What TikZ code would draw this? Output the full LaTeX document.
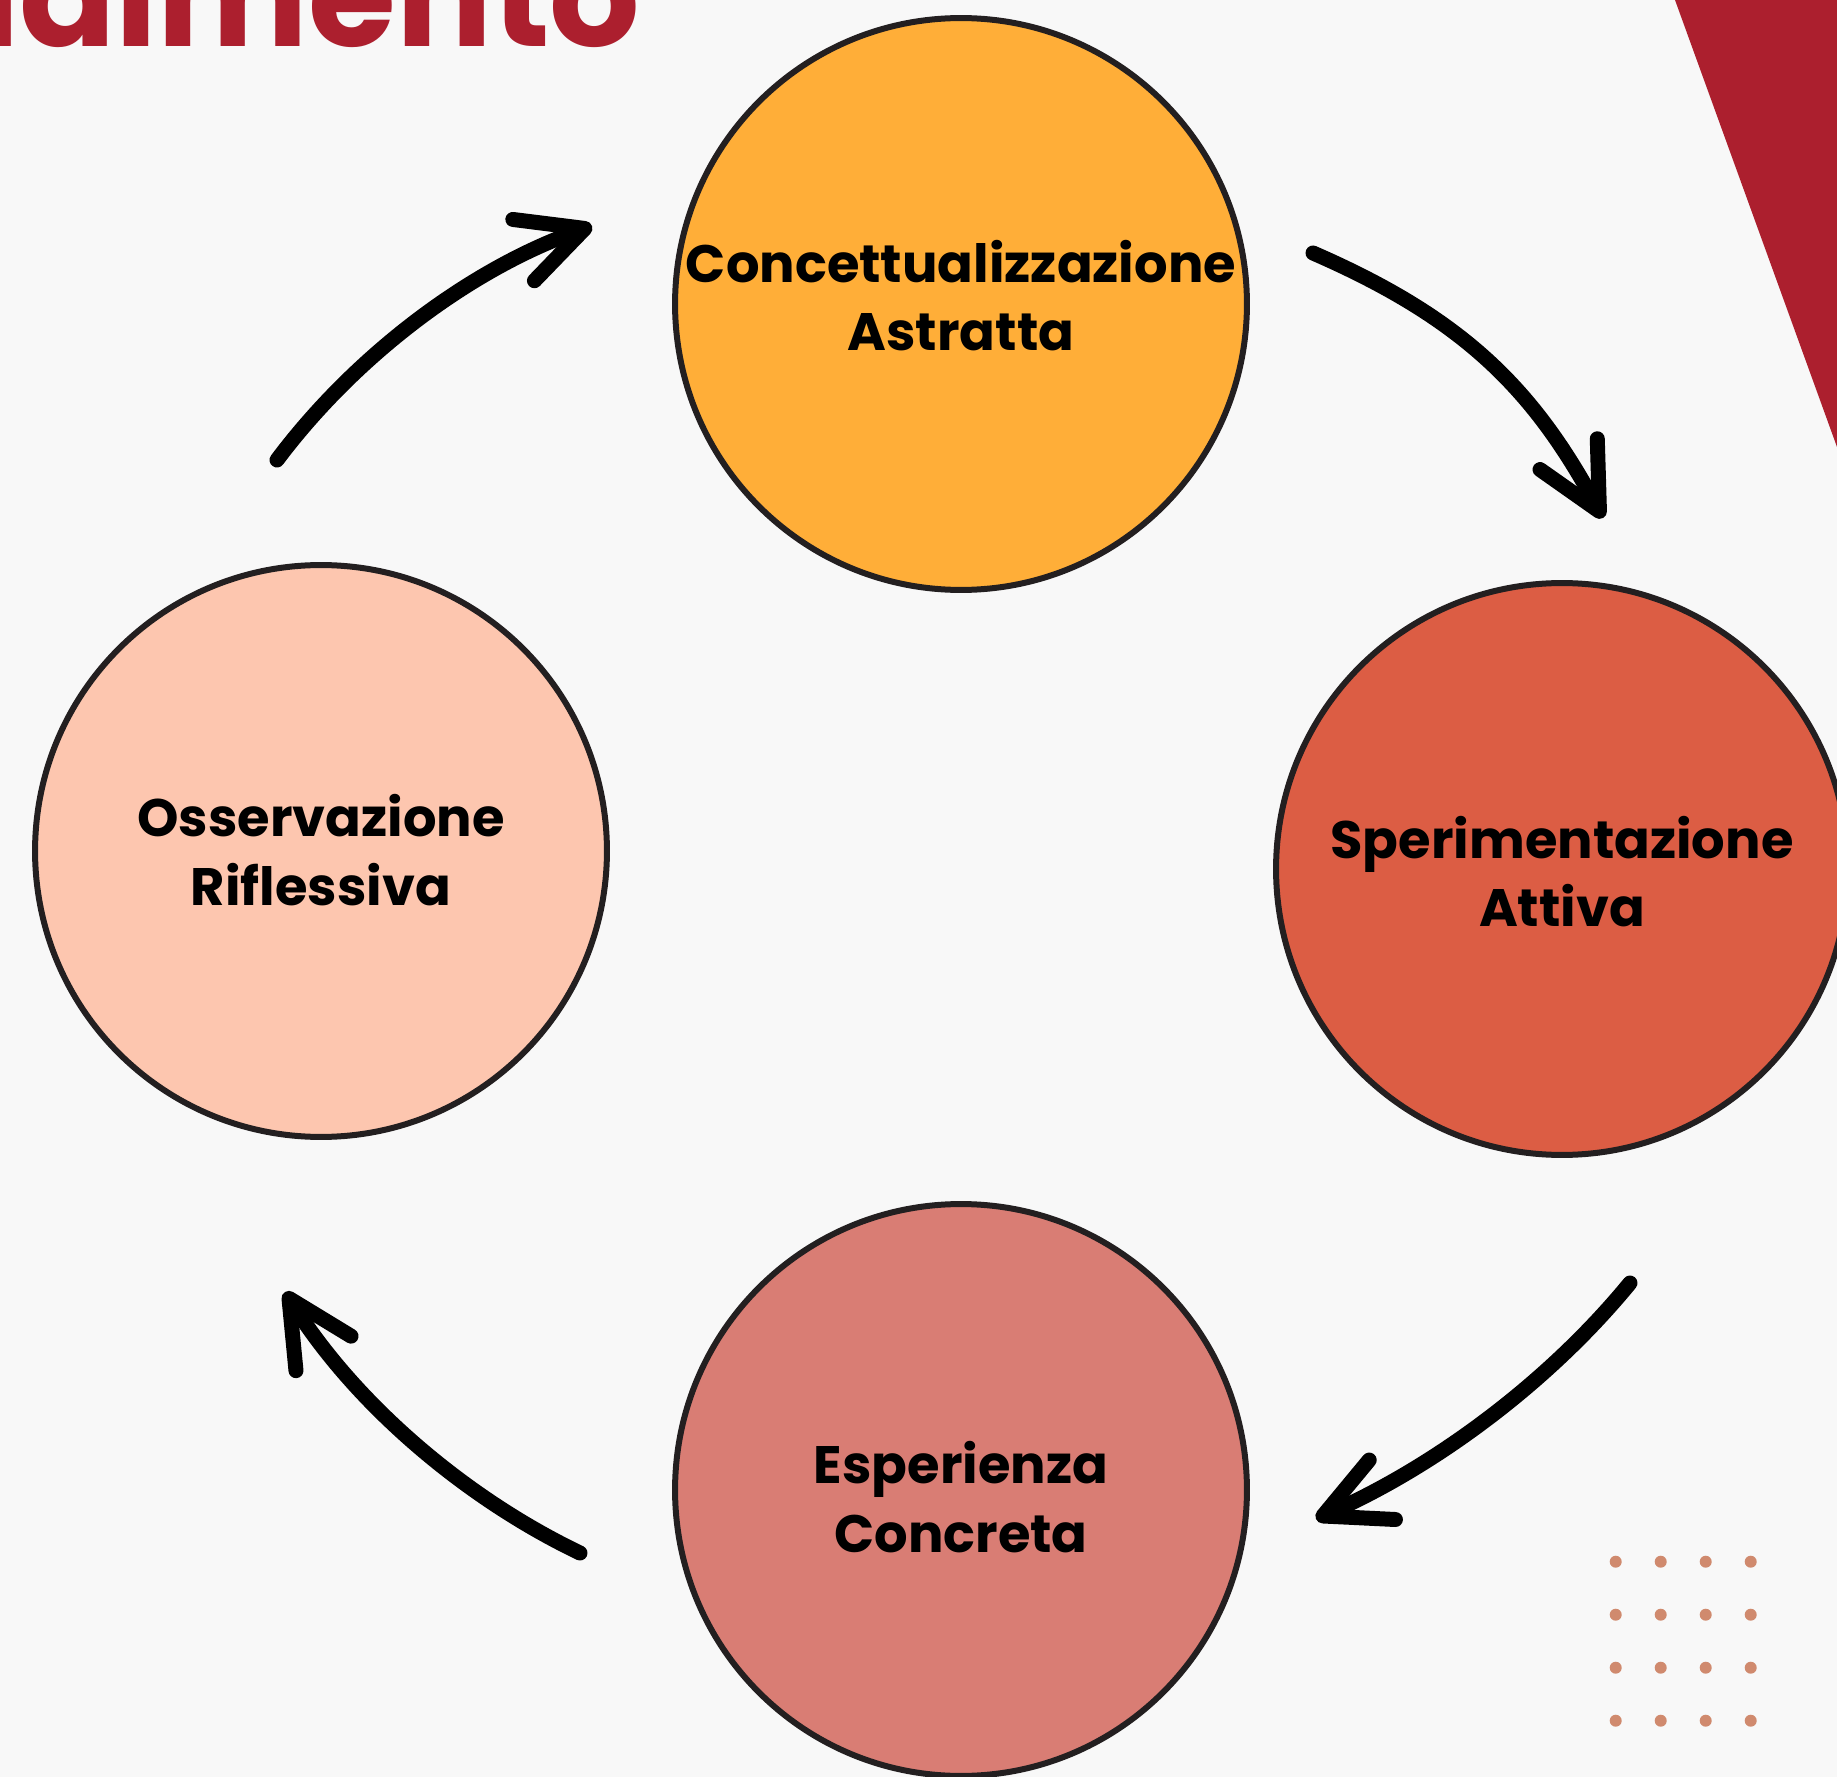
\documentclass[tikz,border=0pt]{standalone}
\usepackage{xcolor}
\usepackage{fontspec}
\setmainfont{Poppins}
\usepackage{tikz}
\usetikzlibrary{arrows.meta}

\definecolor{sfondo}{HTML}{F8F8F8}
\definecolor{rossotitolo}{HTML}{AC1F2E}
\definecolor{bordo}{HTML}{231F20}
\definecolor{arancio}{HTML}{FFAE38}
\definecolor{corallo}{HTML}{DC5D44}
\definecolor{rosa}{HTML}{D97D74}
\definecolor{pesca}{HTML}{FDC6AF}
\definecolor{puntini}{HTML}{D08A6E}

\tikzset{
	fase/.style={circle, draw=bordo, line width=0.12cm, minimum size=11.44cm, inner sep=0pt},
	testofase/.style={align=center, inner sep=0pt, font=\fontsize{30}{39}\selectfont\bfseries},
	freccia/.style={line width=0.3cm, line cap=round, line join=round,
		-{Straight Barb[round, length=1.3cm, width=1.3cm]}},
}

\begin{document}
\begin{tikzpicture}[x=0.02cm, y=-0.02cm]
		\useasboundingbox (0,0) rectangle (1837,1777);
		\clip (0,0) rectangle (1837,1777);
		\fill[sfondo] (0,0) rectangle (1837,1777);
		\fill[rossotitolo] (1675,0) -- (1837,0) -- (1837,447) -- cycle;
		\node[anchor=base east, inner sep=0pt, text=rossotitolo, font=\fontsize{81}{81}\selectfont\bfseries] (titolo) at (641,47) {ndimento};

		\node[fase, fill=arancio] (concettualizzazione) at (961,304) {};
		\node[fase, fill=corallo] (sperimentazione) at (1562,869) {};
		\node[fase, fill=rosa] (esperienza) at (961,1490) {};
		\node[fase, fill=pesca] (osservazione) at (321,851) {};

		\node[testofase] (conc-testo) at ([yshift=0.17cm]concettualizzazione.center) {Concettualizzazione\\Astratta};
		\node[testofase] (sper-testo) at ([yshift=-0.05cm]sperimentazione.center) {Sperimentazione\\Attiva};
		\node[testofase] (esp-testo) at ([yshift=-0.14cm]esperienza.center) {Esperienza\\Concreta};
		\node[testofase] (oss-testo) at ([yshift=0.02cm]osservazione.center) {Osservazione\\Riflessiva};

		\coordinate (oss-out) at (277,460);
		\coordinate (conc-in) at (592,226);
		\coordinate (conc-out) at (1313,253);
		\coordinate (sper-in) at (1603,518);
		\coordinate (sper-out) at (1630,1283);
		\coordinate (esp-in) at (1316,1519);
		\coordinate (esp-out) at (580,1553);
		\coordinate (oss-in) at (285,1292);

		\draw[freccia] (oss-out) .. controls (355,356) and (470,269) .. (conc-in);
		\draw[freccia] (conc-out) .. controls (1460,317) and (1532,386) .. (sper-in);
		\draw[freccia] (sper-out) .. controls (1548,1383) and (1434,1467) .. (esp-in);
		\draw[freccia] (esp-out) .. controls (463,1497) and (354,1402) .. (oss-in);

		\foreach \i in {0,...,3}
			\foreach \j in {0,...,3}
				\fill[puntini] ({1615.7+45*\i},{1561.7+53*\j}) circle[radius=0.12cm];
\end{tikzpicture}
\end{document}
